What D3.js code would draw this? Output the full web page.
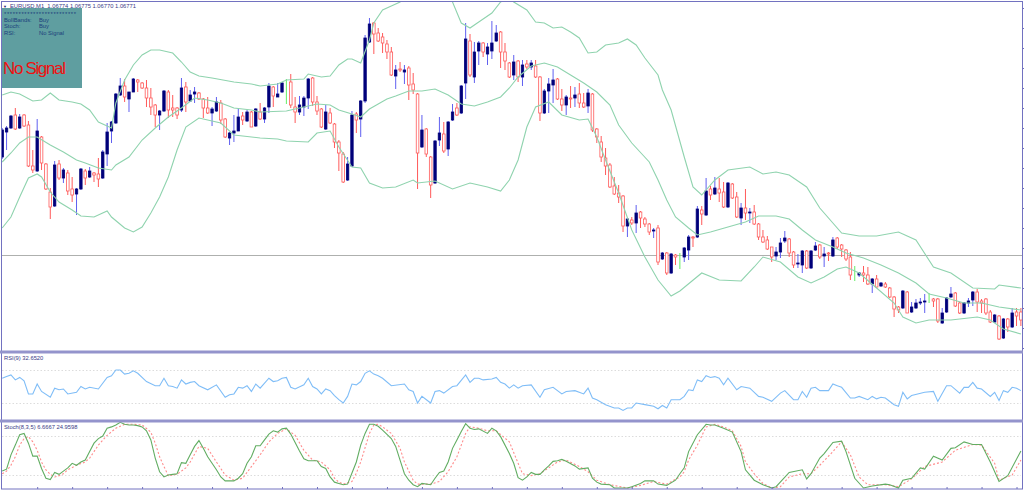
<!doctype html>
<html>
<head>
    <title>EURUSD M1</title>
    <script src='https://d3js.org/d3.v7.min.js'></script>
    <style>
        html, body { margin: 0; padding: 0; background: #fff; overflow: hidden; }
        text { font-family: "Liberation Sans", sans-serif; }
    </style>
</head>
<body>
<svg></svg>
<script>

    // candles, prices in points above 1.06700
    var candleOpen = [230,255,259,272,259,272,262,221,216,250,
        223,195,181,223,209,214,198,193,198,216,
        210,214,213,209,233,256,264,292,301,288,
        295,307,304,299,289,282,272,276,295,279,
        279,277,300,286,293,294,288,279,274,276,
        284,268,249,254,256,271,266,275,261,275,
        268,280,300,290,295,307,305,280,275,280,
        289,309,285,278,258,274,263,245,233,207,
        221,273,268,286,345,364,354,350,343,335,
        311,318,315,319,303,293,240,258,230,204,
        247,253,238,267,279,274,304,346,310,336,
        344,333,336,346,355,335,324,312,326,310,
        323,320,321,310,274,296,302,308,288,282,
        289,289,293,284,281,293,258,245,229,222,
        201,194,191,161,167,164,175,168,163,156,
        159,128,134,114,132,131,130,137,150,150,
        177,172,198,193,198,195,180,203,190,169,
        179,174,175,163,150,147,140,131,135,146,
        148,135,123,122,136,119,137,142,131,134,
        131,149,142,137,130,111,112,114,112,103,
        108,101,103,99,90,80,79,95,75,79,
        84,85,86,88,88,64,75,90,94,84,
        74,84,87,95,86,88,75,65,71,49,
        68,60,75,75];
    var candleClose = [257,259,271,258,270,261,221,217,256,224,
        198,180,222,209,217,196,192,198,218,209,
        216,212,208,235,255,265,293,301,290,295,
        308,305,299,289,280,272,276,296,277,277,
        272,299,285,292,295,288,279,274,278,285,
        267,250,254,256,270,267,275,260,278,268,
        279,301,291,293,304,307,282,275,282,289,
        308,285,276,260,275,264,245,234,205,223,
        272,267,286,349,363,353,346,344,335,312,
        317,317,317,302,297,234,257,233,202,246,
        254,236,265,275,272,301,348,312,335,344,
        335,340,344,354,335,326,310,325,310,322,
        320,324,310,274,296,303,307,288,282,290,
        288,292,284,280,294,257,250,230,221,200,
        193,190,161,168,164,174,169,163,155,157,
        125,134,114,133,130,131,139,150,149,178,
        173,196,192,199,194,180,204,189,170,179,
        174,175,163,150,145,138,130,135,144,149,
        134,122,124,136,119,136,141,130,133,133,
        147,140,138,128,112,111,114,112,103,108,
        100,104,100,90,78,77,96,74,80,84,
        85,86,86,86,66,74,89,93,81,74,
        84,86,95,85,84,74,65,72,48,68,
        60,74,71,67];
    var candleHigh = [259,261,272,279,273,273,266,237,268,251,
        224,199,226,227,219,217,210,199,219,218,
        220,215,229,237,264,266,294,309,308,295,
        309,308,305,307,299,283,277,297,297,292,
        280,309,305,297,300,295,289,290,280,290,
        287,269,255,272,279,275,277,276,279,284,
        280,304,301,304,305,308,313,290,291,291,
        309,310,291,279,282,279,264,247,235,230,
        276,275,287,352,369,365,359,354,347,340,
        322,325,322,321,314,294,272,259,231,247,
        270,265,266,283,284,302,364,353,345,346,
        345,344,366,362,356,344,325,332,327,327,
        327,327,327,311,298,309,318,309,298,292,
        301,300,304,294,298,294,259,251,239,224,
        210,202,192,169,170,182,176,170,164,159,
        162,135,135,134,133,134,140,152,151,181,
        181,209,201,210,209,205,205,204,195,184,
        198,179,182,164,157,151,140,140,149,156,
        149,136,133,137,137,137,145,143,140,135,
        150,150,143,138,135,121,115,121,120,109,
        112,105,105,100,91,81,97,96,85,88,
        89,93,94,89,89,79,90,100,95,85,
        85,89,96,98,88,89,77,73,72,69,
        69,79,79,79];
    var candleLow = [228,237,258,257,258,260,220,214,215,217,
        197,168,180,207,204,192,185,172,197,202,
        209,205,200,208,221,244,263,291,285,275,
        295,295,298,280,272,260,257,275,269,270,
        268,275,275,285,284,287,269,273,261,275,
        263,249,242,245,256,262,265,260,260,267,
        264,274,280,290,294,283,279,264,272,271,
        278,281,272,259,257,263,239,216,204,206,
        220,254,250,284,344,333,345,334,328,311,
        298,315,303,287,293,198,239,230,189,203,
        241,234,231,266,271,273,288,310,304,322,
        330,322,328,345,319,317,309,307,305,301,
        318,317,309,266,273,274,284,287,276,272,
        279,280,279,279,274,255,244,225,212,199,
        192,184,155,150,162,154,159,160,152,149,
        122,127,112,113,122,118,125,127,140,149,
        162,171,187,192,185,179,179,188,169,162,
        167,164,162,147,144,137,125,127,129,144,
        130,119,119,114,118,118,136,128,120,126,
        130,138,130,126,107,106,110,105,102,94,
        99,100,99,89,70,74,78,74,74,78,
        82,74,84,80,64,63,74,89,80,73,
        73,80,81,75,74,72,64,64,47,48,
        55,59,61,61];

    // bollinger bands, read at the bars where the line bends
    var upperBars = [0,2,4,7,9,11,13,16,18,20,22,25,26,28,30,32,34,36,39,41,43,45,48,53,57,59,63,65,69,70,73,75,77,79,80,82,84,85,87,89,91,94,98,101,103,105,107,109,112,114,116,117,120,122,124,126,128,130,132,134,136,138,141,143,145,147,150,151,153,156,158,160,163,166,171,174,177,180,184,187,192,196,200,205,209,213,217,222,227,228,233];
    var upperValues = [292,295,293,286,287,294,287,285,283,277,265,259,284,307,322,332,337,337,334,325,315,311,309,305,303,301,303,307,308,313,310,311,322,328,328,324,347,364,377,381,385,399,401,395,385,364,359,365,374,385,390,385,377,365,364,359,360,355,349,334,335,342,344,348,342,329,312,297,277,230,200,192,207,217,220,213,215,212,200,179,154,151,151,155,147,120,114,99,98,102,99];
    var middleBars = [0,2,4,6,8,11,14,17,19,22,25,26,29,32,35,38,41,44,47,50,53,57,59,65,69,72,75,77,80,82,84,88,90,93,96,99,102,105,108,111,114,116,118,121,124,127,130,133,136,139,141,144,148,150,152,154,157,159,162,166,170,173,177,180,183,186,190,193,197,201,205,209,212,216,220,224,228,233];
    var middleValues = [225,234,244,250,250,242,235,227,224,219,217,222,230,247,259,270,279,289,287,284,279,277,275,276,280,283,282,277,273,270,278,288,291,296,296,298,292,283,281,285,290,299,310,321,324,320,312,304,295,282,262,244,225,207,187,170,159,152,155,160,165,171,171,168,157,147,140,134,129,122,114,104,93,89,84,84,80,77];
    var lowerBars = [0,2,4,6,8,9,11,13,16,18,21,24,25,28,30,32,34,36,38,40,42,45,47,50,53,59,63,65,70,72,75,77,80,82,84,87,90,94,95,99,103,107,111,114,116,118,120,122,125,128,132,134,136,138,141,144,147,150,153,155,160,164,169,172,174,178,182,185,188,191,193,196,200,204,206,209,212,217,223,226,229,233];
    var lowerValues = [159,170,190,209,213,210,195,185,177,171,170,176,170,159,155,160,174,190,210,237,260,269,267,264,252,249,248,246,245,254,256,240,220,219,204,199,200,207,204,206,198,204,200,196,207,227,260,280,285,272,267,268,250,227,194,157,130,107,91,96,114,107,106,120,130,125,110,104,110,118,120,114,99,84,70,64,67,67,70,67,58,53];

    // RSI(9)
    var rsiBars = [0,1,2,3,4,5,6,7,8,9,11,12,13,14,15,17,18,19,20,22,24,25,26,27,28,29,30,31,33,35,36,37,38,39,40,41,42,43,44,45,47,49,51,52,53,54,55,56,57,58,59,61,62,63,64,65,66,67,69,70,71,72,73,74,75,76,77,78,79,80,81,82,83,84,85,86,87,89,92,93,94,95,96,98,99,100,101,103,104,106,107,108,109,110,112,113,114,115,116,117,118,119,121,123,124,126,128,129,131,133,134,135,136,138,140,141,142,143,144,145,147,149,150,151,152,153,155,156,157,158,159,160,161,162,163,164,165,166,168,169,171,173,174,176,178,179,181,182,183,184,185,186,187,189,190,191,192,194,195,196,198,199,200,201,202,204,205,206,207,208,211,213,214,216,217,219,220,221,222,223,224,226,227,228,229,230,231,232,233];
    var rsiValues = [60,62,64,58,61,57,41,41,53,44,37,48,46,47,41,43,50,47,49,47,61,63,70,70,65,66,69,66,56,51,51,60,51,50,48,58,53,55,56,51,46,52,37,40,41,49,48,51,44,53,48,60,56,57,60,61,49,47,52,60,50,47,41,47,45,39,34,30,38,53,52,56,66,69,65,63,60,51,53,46,44,30,38,30,44,45,42,50,51,64,55,60,60,58,59,61,55,53,48,52,48,51,52,37,46,49,41,44,45,41,48,36,34,28,24,24,21,24,24,30,28,26,23,27,24,34,34,38,46,45,58,56,63,61,62,60,52,60,46,50,48,38,37,32,42,45,34,34,44,37,48,49,45,45,53,51,49,36,36,38,34,38,35,37,36,28,26,43,35,39,43,44,32,51,51,42,49,49,55,48,47,38,43,33,45,43,49,48,45];

    // Stoch(8,3,5)
    var stochMainBars = [0,1,2,3,4,5,6,7,8,9,10,11,12,13,14,15,16,17,18,19,20,21,22,23,24,25,26,27,28,29,30,31,32,33,34,35,36,37,38,39,40,41,42,43,44,45,46,47,48,49,50,51,52,53,54,55,56,57,58,59,60,61,62,63,64,65,66,67,68,69,70,71,72,73,74,75,76,77,78,79,80,81,82,83,84,85,86,87,89,90,91,92,93,94,95,96,98,99,100,101,102,103,104,105,106,107,108,109,111,112,113,114,116,117,118,119,120,121,122,123,124,125,126,127,128,129,131,132,134,135,136,137,139,140,143,144,146,147,149,150,152,154,155,156,157,159,161,162,163,165,167,169,170,172,174,176,177,180,183,184,185,187,188,190,192,193,195,197,199,202,203,205,206,208,210,211,213,215,217,218,220,222,224,226,228,230,233];
    var stochMainValues = [26,29,51,66,82,84,69,49,49,30,15,13,24,21,26,31,38,35,40,43,56,69,76,80,92,94,97,101,98,97,97,96,94,88,74,46,25,17,20,21,22,39,38,51,64,73,61,48,38,28,17,11,11,11,15,22,38,48,65,65,74,83,88,86,91,92,83,70,57,45,42,42,42,33,30,17,9,7,5,6,23,40,66,84,98,98,95,89,76,64,43,22,12,5,2,7,5,15,24,26,40,61,74,87,99,92,90,91,84,92,88,79,53,38,16,12,17,24,21,21,28,34,41,42,44,41,34,29,31,15,9,6,5,0,0,2,7,11,11,6,4,12,22,31,56,82,98,97,97,92,86,56,28,12,5,0,2,24,28,14,22,46,53,70,72,56,15,0,3,6,5,0,12,15,31,29,49,43,61,62,71,67,67,40,10,19,57];
    var stochSignalBars = [0,1,2,3,4,5,6,7,8,9,10,11,12,13,14,15,17,19,20,21,22,24,26,28,30,32,34,35,36,37,38,40,42,43,45,47,49,51,53,55,57,59,61,63,65,67,69,71,73,75,76,77,78,80,81,82,84,85,86,87,89,91,92,94,95,96,98,100,102,104,105,106,107,109,111,113,116,118,119,121,123,125,127,129,132,134,136,139,143,146,149,152,155,156,157,159,161,163,165,167,169,170,172,174,176,178,180,183,185,187,190,192,194,196,198,202,205,208,211,215,218,222,224,227,228,231,233];
    var stochSignalValues = [22,26,35,48,66,76,79,71,58,40,28,21,17,19,22,28,35,40,46,56,66,81,92,98,98,97,86,69,48,33,19,21,31,40,64,61,40,20,12,15,33,51,71,84,91,81,58,43,40,28,15,9,6,10,23,40,84,97,98,94,84,61,40,12,6,6,6,10,25,48,66,84,94,92,88,88,71,38,22,19,22,31,40,43,33,25,12,5,0,4,10,6,17,25,43,66,94,98,94,88,64,40,22,7,0,2,17,22,22,35,56,71,51,17,5,5,2,14,33,40,58,67,66,38,12,20,43];

    var priceTicks = [379,359,339,319,299,279,259,239,219,199,179,159,139,119,99,79,59,39];
    var barTicks = [8,16,24,32,40,48,56,64,72,80,88,96,104,112,120,128,136,144,152,160,168,176,184,192,200,208,216,224,232];
    var rsiLevels = [70,30];
    var stochLevels = [80,20];
    var bidLevel = 131.5;

    var svgWidth = 1024, svgHeight = 490;
    var bandColor = '#8fd3ae', frameColor = '#7272c0', panelColor = '#9494cc';

    var svg = d3.select('svg')
        .attr('width', svgWidth)
        .attr('height', svgHeight)
        .style('display', 'block');

    var xBar = d3.scaleLinear().domain([0, 233]).range([2.2, 1020.9]);
    var yPrice = d3.scaleLinear().domain([37, 387]).range([350, 0]);
    var yRsi = d3.scaleLinear().domain([30, 70]).range([403, 370]);
    var yStoch = d3.scaleLinear().domain([0, 100]).range([488, 423]);

    svg.append('clipPath').attr('id', 'plot')
        .append('rect').attr('x', 1).attr('y', 1).attr('width', 1021).attr('height', 350);

    var plot = svg.append('g').attr('clip-path', 'url(#plot)');

    // bid line
    plot.append('line')
        .attr('x1', 1).attr('x2', 1022)
        .attr('y1', yPrice(bidLevel)).attr('y2', yPrice(bidLevel))
        .attr('stroke', '#aeb0ae').attr('stroke-width', 1);

    // candles
    var candles = plot.selectAll('g.candle')
        .data(candleOpen)
        .enter()
        .append('g')
        .attr('class', 'candle')
        .attr('transform', function (d, i) { return 'translate(' + xBar(i) + ',0)'; });

    candles.append('line')
        .attr('y1', function (d, i) { return yPrice(candleHigh[i]); })
        .attr('y2', function (d, i) { return yPrice(candleLow[i]); })
        .attr('stroke', function (d, i) {
            if (candleOpen[i] == candleClose[i]) return '#66ee66';
            return candleClose[i] > candleOpen[i] ? '#6060f0' : '#ff5a5a';
        })
        .attr('stroke-width', 1);

    candles.append('rect')
        .attr('x', function (d, i) { return candleClose[i] > candleOpen[i] ? -1.2 : -1.3; })
        .attr('width', function (d, i) { return candleClose[i] > candleOpen[i] ? 2.4 : 2.6; })
        .attr('y', function (d, i) { return yPrice(Math.max(candleOpen[i], candleClose[i])); })
        .attr('height', function (d, i) { return Math.abs(yPrice(candleOpen[i]) - yPrice(candleClose[i])); })
        .attr('fill', function (d, i) {
            if (candleOpen[i] == candleClose[i]) return 'none';
            return candleClose[i] > candleOpen[i] ? '#00007a' : '#fff';
        })
        .attr('stroke', function (d, i) {
            if (candleOpen[i] == candleClose[i]) return '#66ee66';
            return candleClose[i] > candleOpen[i] ? '#00007a' : '#ff5a5a';
        })
        .attr('stroke-width', 0.8);

    // bands
    function drawLine(parent, bars, values, yScale, color, dash) {
        var line = d3.line()
            .x(function (d) { return xBar(d); })
            .y(function (d, i) { return yScale(values[i]); });
        return parent.append('path')
            .attr('d', line(bars))
            .attr('fill', 'none')
            .attr('stroke', color)
            .attr('stroke-width', 1.1)
            .attr('stroke-dasharray', dash);
    }

    drawLine(plot, upperBars, upperValues, yPrice, bandColor);
    drawLine(plot, middleBars, middleValues, yPrice, bandColor);
    drawLine(plot, lowerBars, lowerValues, yPrice, bandColor);

    // indicator panels
    svg.selectAll('line.rsi-level')
        .data(rsiLevels)
        .enter()
        .append('line')
        .attr('class', 'rsi-level')
        .attr('x1', 2).attr('x2', 1021)
        .attr('y1', function (d) { return yRsi(d) + 0.5; })
        .attr('y2', function (d) { return yRsi(d) + 0.5; })
        .attr('stroke', '#dcdcdc')
        .attr('stroke-dasharray', '1.5,2');

    svg.selectAll('line.stoch-level')
        .data(stochLevels)
        .enter()
        .append('line')
        .attr('class', 'stoch-level')
        .attr('x1', 2).attr('x2', 1021)
        .attr('y1', function (d) { return yStoch(d) + 0.5; })
        .attr('y2', function (d) { return yStoch(d) + 0.5; })
        .attr('stroke', '#dcdcdc')
        .attr('stroke-dasharray', '1.5,2');

    drawLine(svg, rsiBars, rsiValues, yRsi, '#7fbdf7');
    drawLine(svg, stochSignalBars, stochSignalValues, yStoch, '#ff8c8c', '2,2');
    drawLine(svg, stochMainBars, stochMainValues, yStoch, '#62ad62');

    // frame and panel separators
    svg.append('rect').attr('x', 1.5).attr('y', 1.5).attr('width', 1021).attr('height', 487.5)
        .attr('fill', 'none').attr('stroke', frameColor).attr('stroke-width', 1);
    svg.append('line').attr('x1', 0).attr('x2', 1023).attr('y1', 352).attr('y2', 352)
        .attr('stroke', panelColor).attr('stroke-width', 3);
    svg.append('line').attr('x1', 0).attr('x2', 1023).attr('y1', 421).attr('y2', 421)
        .attr('stroke', panelColor).attr('stroke-width', 3);

    // axes, ticks only
    var rightAxis = d3.axisRight(yPrice).tickValues(priceTicks).tickSize(2).tickFormat('');
    svg.append('g').attr('transform', 'translate(1022,0)').call(rightAxis)
        .call(function (g) { g.select('.domain').remove(); })
        .selectAll('line').attr('stroke', frameColor);

    var bottomAxis = d3.axisBottom(xBar).tickValues(barTicks).tickSize(-2).tickFormat('');
    svg.append('g').attr('transform', 'translate(0,489)').call(bottomAxis)
        .call(function (g) { g.select('.domain').remove(); })
        .selectAll('line').attr('stroke', frameColor);

    // info box
    svg.append('rect').attr('x', 2).attr('y', 8).attr('width', 80).attr('height', 80)
        .attr('fill', '#5f9ea0');

    function label(txt, x, y, size, color) {
        return svg.append('text')
            .attr('x', x).attr('y', y)
            .attr('font-size', size)
            .attr('fill', color)
            .text(txt);
    }

    label('\u25BC', 3, 8, 4, '#20206e');
    label('EURUSD,M1  1.06774 1.06775 1.06770 1.06771', 10, 8, 5.8, '#3a3a86').attr('xml:space', 'preserve');
    label('*************************', 4, 15.5, 5.8, '#1c3f7c').attr('textLength', 72);
    label('BollBands:', 4, 21.5, 5.8, '#1c3f7c');
    label('Buy', 39, 21.5, 5.8, '#1c3f7c');
    label('Stoch:', 4, 28, 5.8, '#1c3f7c');
    label('Buy', 39, 28, 5.8, '#1c3f7c');
    label('RSI:', 4, 35, 5.8, '#1c3f7c');
    label('No Signal', 39, 35, 5.8, '#1c3f7c');
    label('No Signal', 3, 74, 17, '#ee1111').attr('textLength', 63).attr('font-family', '"Comic Sans MS", Lato, sans-serif');
    label('RSI(9) 32.6520', 4, 360, 5.8, '#3a3a86');
    label('Stoch(8,3,5) 6.6667 24.9598', 4, 429, 5.8, '#3a3a86');

</script>
</body>
</html>
